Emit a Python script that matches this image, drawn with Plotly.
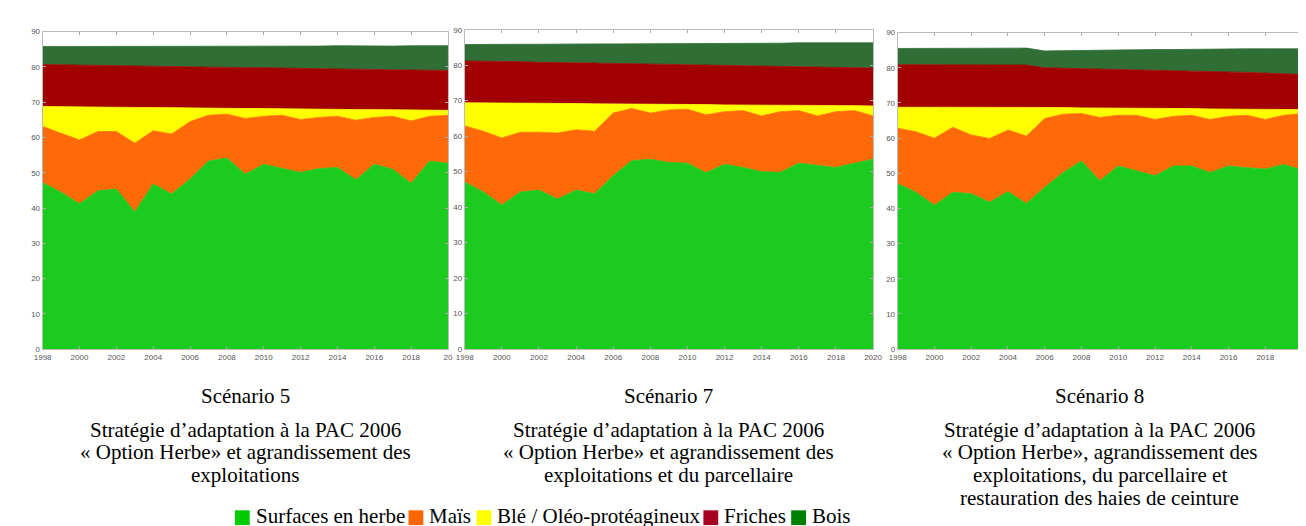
import plotly.graph_objects as go

years = list(range(1998, 2021))

categories = ["Surfaces en herbe", "Maïs", "Blé / Oléo-protéagineux", "Friches", "Bois"]
fill_colors = ["#1BCB1E", "#FF6A08", "#FFFF00", "#A20000", "#2F6F35"]
legend_colors = ["#00CC00", "#FF6600", "#FFFF00", "#A50021", "#008000"]

# Scénario 5
s5_herbe = [47.2, 44.5, 41.2, 44.9, 45.4, 38.9, 46.8, 44.0, 48.2, 53.3, 54.2, 49.6, 52.4, 51.2, 50.1, 51.2, 51.5, 48.0, 52.4, 51.0, 47.0, 53.3, 52.7]
s5_mais = [15.9, 16.7, 18.1, 16.8, 16.3, 19.5, 15.1, 17.0, 16.3, 13.0, 12.4, 15.8, 13.6, 15.1, 15.0, 14.5, 14.5, 16.9, 13.3, 15.0, 17.7, 12.7, 13.6]
s5_ble = [5.7, 7.5, 9.4, 6.9, 6.9, 10.1, 6.6, 7.4, 3.9, 2.0, 1.7, 2.8, 2.2, 1.8, 3.0, 2.3, 2.0, 3.0, 2.2, 1.8, 3.1, 1.7, 1.4]
s5_friches = [11.9, 11.9, 11.8, 11.8, 11.8, 11.7, 11.7, 11.7, 11.7, 11.6, 11.6, 11.6, 11.6, 11.5, 11.5, 11.5, 11.5, 11.4, 11.4, 11.4, 11.4, 11.3, 11.3]
s5_bois = [5.1, 5.2, 5.3, 5.4, 5.4, 5.5, 5.6, 5.7, 5.8, 5.9, 6.0, 6.0, 6.1, 6.2, 6.3, 6.4, 6.5, 6.6, 6.6, 6.7, 6.8, 6.9, 7.0]

# Scénario 7
s7_herbe = [47.1, 44.3, 40.6, 44.3, 44.8, 42.3, 44.8, 43.8, 48.9, 53.1, 53.5, 52.6, 52.4, 49.7, 52.1, 51.2, 50.0, 49.8, 52.4, 51.7, 51.2, 52.4, 53.5]
s7_mais = [15.8, 17.1, 18.9, 16.8, 16.3, 18.6, 17.0, 17.6, 17.6, 14.7, 13.0, 14.8, 15.2, 16.3, 14.8, 16.0, 15.7, 17.1, 14.8, 14.0, 15.7, 14.8, 12.2]
s7_ble = [6.5, 8.0, 9.8, 8.2, 8.1, 8.3, 7.4, 7.7, 2.6, 1.2, 2.5, 1.6, 1.3, 2.9, 1.9, 1.6, 3.1, 1.8, 1.5, 2.9, 1.7, 1.4, 2.8]
s7_friches = [11.8, 11.8, 11.7, 11.7, 11.6, 11.6, 11.5, 11.5, 11.4, 11.4, 11.3, 11.3, 11.3, 11.2, 11.2, 11.1, 11.1, 11.0, 11.0, 10.9, 10.9, 10.8, 10.7]
s7_bois = [4.6, 4.7, 4.8, 4.9, 5.1, 5.2, 5.3, 5.4, 5.5, 5.6, 5.7, 5.8, 5.9, 6.0, 6.1, 6.2, 6.3, 6.5, 6.6, 6.7, 6.8, 6.9, 7.1]

# Scénario 8
s8_herbe = [47.0, 44.6, 40.9, 44.6, 44.2, 41.8, 44.8, 41.4, 46.0, 50.2, 53.5, 47.9, 52.1, 50.7, 49.3, 52.1, 52.1, 50.2, 52.1, 51.6, 51.2, 52.5, 51.0]
s8_mais = [15.8, 17.2, 19.1, 18.5, 16.7, 18.1, 17.5, 19.2, 19.6, 16.6, 13.5, 18.0, 14.4, 15.8, 16.0, 14.1, 14.4, 15.1, 14.1, 14.9, 14.1, 14.0, 16.0]
s8_ble = [6.0, 7.0, 8.9, 5.8, 8.0, 9.0, 6.6, 8.2, 3.1, 1.9, 1.6, 2.7, 2.0, 2.0, 3.2, 2.2, 1.9, 3.0, 2.1, 1.8, 2.9, 1.7, 1.1]
s8_friches = [12.1, 12.1, 12.0, 12.0, 12.0, 12.0, 12.0, 12.0, 11.3, 11.2, 11.2, 11.1, 11.0, 10.9, 10.8, 10.8, 10.7, 10.6, 10.5, 10.4, 10.3, 10.2, 10.0]
s8_bois = [4.6, 4.6, 4.6, 4.7, 4.7, 4.7, 4.8, 4.8, 4.8, 5.0, 5.2, 5.4, 5.5, 5.7, 5.9, 6.0, 6.2, 6.4, 6.6, 6.7, 6.9, 7.1, 7.3]

scenarios = [
    [s5_herbe, s5_mais, s5_ble, s5_friches, s5_bois],
    [s7_herbe, s7_mais, s7_ble, s7_friches, s7_bois],
    [s8_herbe, s8_mais, s8_ble, s8_friches, s8_bois],
]

x_ticks = list(range(1998, 2021, 2))
x_ticktext = [
    [str(v) for v in x_ticks[:-1]] + ["20"],
    [str(v) for v in x_ticks],
    [str(v) for v in x_ticks[:-1]] + [""],
]
y_ticks = list(range(0, 91, 10))

captions = [
    ["Scénario 5", "Stratégie d’adaptation à la PAC 2006",
     "« Option Herbe» et agrandissement des", "exploitations"],
    ["Scénario 7", "Stratégie d’adaptation à la PAC 2006",
     "« Option Herbe» et agrandissement des", "exploitations et du parcellaire"],
    ["Scénario 8", "Stratégie d’adaptation à la PAC 2006",
     "« Option Herbe», agrandissement des", "exploitations, du parcellaire et",
     "restauration des haies de ceinture"],
]

W, H = 1306, 526
panels_px = [(26, 437, 20), (454, 868, 18), (893, 1303, 21)]
bottom_px = 343
caption_y = [391, 425, 448, 471, 494]
serif = "Liberation Serif, Times New Roman, serif"

fig = go.Figure()

for p, layers in enumerate(scenarios):
    xa = "x" if p == 0 else f"x{p+1}"
    ya = "y" if p == 0 else f"y{p+1}"
    for k, vals in enumerate(layers):
        fig.add_trace(go.Scatter(
            x=years, y=vals, mode="lines", stackgroup=f"s{p}",
            line=dict(color=fill_colors[k], width=0.8),
            fillcolor=fill_colors[k], name=categories[k],
            showlegend=False, hoverinfo="skip", xaxis=xa, yaxis=ya,
        ))

layout = dict(
    width=W, height=H,
    margin=dict(l=0, r=0, t=0, b=0),
    paper_bgcolor="white", plot_bgcolor="white",
    showlegend=False,
    annotations=[], shapes=[],
)

axis_font = dict(family="Liberation Sans, Arial", size=8, color="#555")
for p, (l, r, t) in enumerate(panels_px):
    xk = "xaxis" if p == 0 else f"xaxis{p+1}"
    yk = "yaxis" if p == 0 else f"yaxis{p+1}"
    xa = "x" if p == 0 else f"x{p+1}"
    ya = "y" if p == 0 else f"y{p+1}"
    layout[xk] = dict(
        domain=[l / W, r / W], range=[1998, 2020], anchor=ya,
        tickvals=x_ticks, ticktext=x_ticktext[p],
        ticks="inside", ticklen=3, tickcolor="#aaa",
        showline=True, linecolor="#bbb", linewidth=1, mirror="ticks",
        showgrid=False, zeroline=False, tickfont=axis_font, fixedrange=True,
    )
    layout[yk] = dict(
        domain=[1 - bottom_px / H, 1 - t / H], range=[0, 90], anchor=xa,
        tickvals=y_ticks, ticks="inside", ticklen=3, tickcolor="#aaa",
        showline=True, linecolor="#bbb", linewidth=1, mirror="ticks",
        showgrid=False, zeroline=False, tickfont=axis_font, fixedrange=True,
    )
    cx = (l + r) / 2 / W
    for i, txt in enumerate(captions[p]):
        layout["annotations"].append(dict(
            text=txt, x=cx, y=1 - caption_y[i] / H, xref="paper", yref="paper",
            xanchor="center", yanchor="middle", showarrow=False,
            font=dict(family=serif, size=21, color="black"),
        ))

# Legend row (swatch + label), laid out left to right along the bottom edge
legend_swatch_x = [221, 397, 466, 696, 785]
sw = 15
sw_top = 507
for k, name in enumerate(categories):
    x0 = legend_swatch_x[k]
    layout["shapes"].append(dict(
        type="rect", xref="paper", yref="paper",
        x0=x0 / W, x1=(x0 + sw) / W,
        y0=1 - (sw_top + sw) / H, y1=1 - sw_top / H,
        fillcolor=legend_colors[k], line=dict(width=0),
    ))
    layout["annotations"].append(dict(
        text=name, x=(x0 + sw + 5) / W, y=0,
        xref="paper", yref="paper", xanchor="left", yanchor="bottom",
        borderpad=0, showarrow=False,
        font=dict(family=serif, size=21, color="black"),
    ))

fig.update_layout(**layout)
fig.write_html("out.html")
